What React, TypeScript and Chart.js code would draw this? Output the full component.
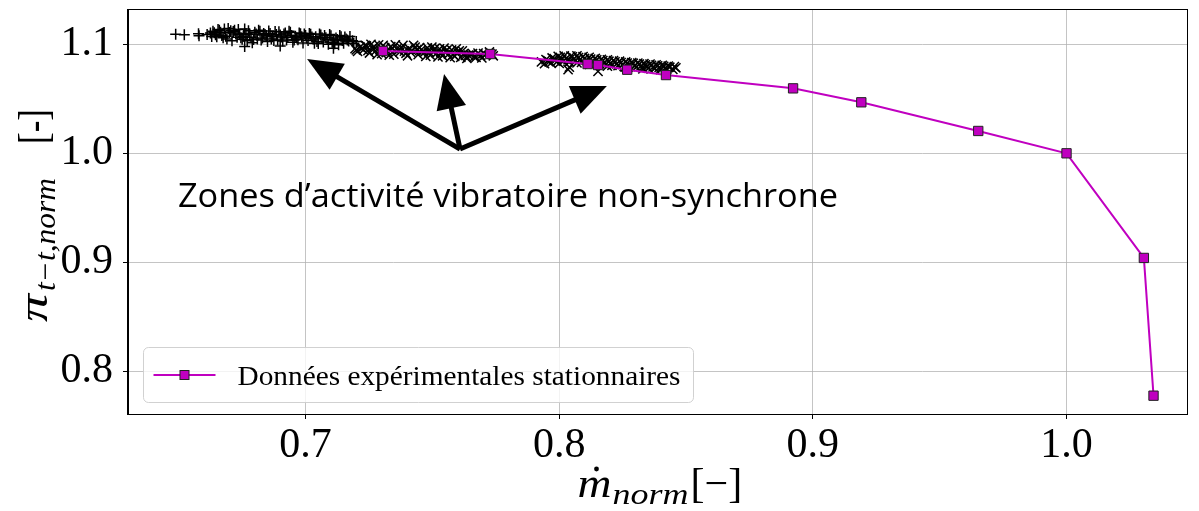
import React, { useEffect, useRef } from "react";
import { Chart, registerables } from "chart.js";

Chart.register(...registerables);

// ---------- data ----------
const xTicks = [0.7, 0.8, 0.9, 1.0];
const yTicks = [0.8, 0.9, 1.0, 1.1];
const xMin = 0.63;
const xMax = 1.0475;
const yMin = 0.7608;
const yMax = 1.1315;

const seriesLabel = "Données expérimentales stationnaires";
const expX = [0.7305, 0.7728, 0.8112, 0.8153, 0.8268, 0.8421, 0.8922, 0.9191, 0.9652, 1.0, 1.0305, 1.0343];
const expY = [1.0939, 1.0911, 1.0819, 1.081, 1.0767, 1.0718, 1.0596, 1.0468, 1.0205, 1.0, 0.904, 0.7776];

// '+' cluster (lowest flow rates)
const plusX = [
  0.6488, 0.6522, 0.6578, 0.658, 0.6612, 0.663, 0.6625,
  0.664, 0.665, 0.666, 0.667, 0.668, 0.669, 0.67, 0.671, 0.672, 0.673, 0.674, 0.675, 0.676, 0.677, 0.678, 0.679,
  0.68, 0.681, 0.682, 0.683, 0.684, 0.685, 0.686, 0.687, 0.688, 0.689, 0.69, 0.691, 0.692, 0.693, 0.694, 0.695,
  0.696, 0.697, 0.698, 0.699, 0.7, 0.701, 0.702, 0.703, 0.704, 0.705, 0.706, 0.707, 0.708, 0.709, 0.71, 0.711,
  0.712, 0.713, 0.714, 0.715, 0.716, 0.717,
  0.6645, 0.6665, 0.6685, 0.6705, 0.6725, 0.6745, 0.6765, 0.6785, 0.6805, 0.6825, 0.6845, 0.6865, 0.6885, 0.6905,
  0.6925, 0.6945, 0.6965, 0.6985, 0.7005, 0.7025, 0.7045, 0.7065, 0.7085, 0.7105, 0.7125, 0.7145, 0.7165, 0.7185, 0.72,
  0.676, 0.69, 0.711,
  0.6635, 0.6655, 0.6675, 0.6695, 0.6715, 0.6735, 0.6755, 0.6775, 0.6795, 0.6815, 0.6835, 0.6855, 0.6875, 0.6895,
  0.6915, 0.6935, 0.6955, 0.6975, 0.6995, 0.7015, 0.7035, 0.7055, 0.7075, 0.7095, 0.7115, 0.7135, 0.7155, 0.7175, 0.719,
];
const plusY = [
  1.1092, 1.1088, 1.1098, 1.1078, 1.109, 1.1072, 1.1105,
  1.1106, 1.107, 1.1129, 1.1082, 1.1141, 1.1049, 1.1108, 1.1032, 1.113, 1.1064, 1.1087, 1.1046, 1.114, 1.1033, 1.1092, 1.1015,
  1.111, 1.105, 1.112, 1.1058, 1.109, 1.1025, 1.11, 1.1072, 1.1118, 1.104, 1.1085, 1.103, 1.1105, 1.1062, 1.111, 1.102,
  1.1075, 1.1042, 1.1098, 1.1012, 1.108, 1.1035, 1.1092, 1.105, 1.107, 1.1008, 1.1085, 1.1022, 1.106, 1.1, 1.1078, 1.104,
  1.1058, 1.0995, 1.107, 1.101, 1.105, 1.103,
  1.1088, 1.111, 1.1075, 1.1125, 1.1095, 1.106, 1.11, 1.1065, 1.1095, 1.104, 1.108, 1.1048, 1.109, 1.1068,
  1.104, 1.1082, 1.1058, 1.107, 1.1058, 1.1068, 1.1025, 1.106, 1.1045, 1.102, 1.1045, 1.1035, 1.104, 1.1032, 1.1025,
  1.098, 1.0985, 1.0965,
  1.112, 1.1135, 1.106, 1.1145, 1.1118, 1.1135, 1.1075, 1.1125, 1.1045, 1.113, 1.11, 1.1122, 1.1035, 1.1115,
  1.1095, 1.112, 1.104, 1.1105, 1.1095, 1.11, 1.101, 1.1095, 1.1082, 1.109, 1.1005, 1.108, 1.1068, 1.1072, 1.101,
];

// 'x' clusters (intermediate flow rates)
const crossX = [
  0.7195, 0.7205, 0.7215, 0.7228, 0.724, 0.7252, 0.7264, 0.7276, 0.7288, 0.73, 0.7312, 0.7324, 0.7336, 0.7348, 0.736,
  0.7372, 0.7384, 0.7396, 0.7408, 0.742, 0.7432, 0.7444, 0.7456, 0.7468, 0.748, 0.7492, 0.7504, 0.7516, 0.7528, 0.754,
  0.7552, 0.7564, 0.7576, 0.7588, 0.76, 0.7612, 0.7624, 0.7636, 0.765, 0.7665, 0.768, 0.7695, 0.771, 0.7725, 0.774,
  0.72, 0.7222, 0.7246, 0.727, 0.7294, 0.7318, 0.7342, 0.7366, 0.739, 0.7414, 0.7438, 0.7462, 0.7486, 0.751, 0.7534,
  0.7558, 0.7582, 0.7606, 0.763, 0.7658, 0.769,
  0.7235, 0.7258, 0.7282, 0.7306, 0.733, 0.7354, 0.7378, 0.7402, 0.7426, 0.745, 0.7474, 0.7498, 0.7522, 0.7546,
  0.757, 0.7594, 0.7618, 0.7642, 0.7672, 0.7702, 0.7735,
  0.793, 0.7942, 0.7955, 0.7968, 0.798, 0.7992, 0.8004, 0.8016, 0.8028, 0.804, 0.8052, 0.8064, 0.8076, 0.8088, 0.81,
  0.8112, 0.8124, 0.8136, 0.8148, 0.816, 0.8172, 0.8184, 0.8196, 0.8208, 0.822, 0.8232, 0.8244, 0.8256, 0.8268, 0.828,
  0.8292, 0.8304, 0.8316, 0.8328, 0.834, 0.8352, 0.8364, 0.8376, 0.8388, 0.84, 0.8412, 0.8424, 0.8436, 0.8448, 0.846,
  0.796, 0.7985, 0.801, 0.8035, 0.8058, 0.8082, 0.8106, 0.813, 0.8154, 0.8178, 0.8202, 0.8226, 0.825, 0.8274, 0.8298,
  0.8322, 0.8346, 0.837, 0.8394, 0.8418,
  0.7948, 0.7972, 0.7996, 0.802, 0.8046, 0.807, 0.8094, 0.8118, 0.8142, 0.8166, 0.819, 0.8214, 0.8238, 0.8262, 0.8286,
  0.831, 0.8334, 0.8358, 0.8382, 0.8406, 0.843, 0.8454,
  0.8, 0.807, 0.812, 0.819, 0.826, 0.833, 0.84,
  0.8035, 0.8153, 0.804,
];
const crossY = [
  1.096, 1.0935, 1.0975, 1.095, 1.0985, 1.092, 1.0965, 1.094, 1.0995, 1.0915, 1.097, 1.0935, 1.098, 1.091, 1.0958,
  1.093, 1.099, 1.0918, 1.0962, 1.094, 1.0975, 1.0905, 1.095, 1.0925, 1.0968, 1.09, 1.0945, 1.0918, 1.0958, 1.0895,
  1.0935, 1.091, 1.0948, 1.089, 1.0925, 1.088, 1.0915, 1.087, 1.0905, 1.0885, 1.092, 1.0875, 1.0905, 1.093, 1.0895,
  1.0948, 1.0962, 1.0942, 1.0978, 1.0948, 1.0925, 1.0962, 1.0945, 1.0938, 1.0928, 1.095, 1.0938, 1.093, 1.0962, 1.0925,
  1.095, 1.0905, 1.094, 1.0898, 1.0915, 1.0898,
  1.099, 1.1, 1.0905, 1.099, 1.09, 1.0995, 1.0965, 1.0895, 1.099, 1.097, 1.089, 1.0975, 1.0885, 1.0965,
  1.0878, 1.0958, 1.094, 1.09, 1.088, 1.0915, 1.091,
  1.0838, 1.0822, 1.085, 1.083, 1.0868, 1.0842, 1.088, 1.0845, 1.0872, 1.0838, 1.0885, 1.085, 1.0878, 1.0835, 1.087,
  1.0842, 1.0865, 1.0828, 1.0858, 1.082, 1.085, 1.0815, 1.0845, 1.0808, 1.084, 1.0805, 1.0832, 1.0798, 1.0828, 1.0795,
  1.0825, 1.079, 1.0818, 1.0788, 1.0812, 1.0782, 1.0808, 1.078, 1.0802, 1.0775, 1.0798, 1.0772, 1.079, 1.077, 1.0785,
  1.084, 1.0855, 1.0862, 1.0858, 1.0865, 1.086, 1.0855, 1.0845, 1.0838, 1.0832, 1.0825, 1.082, 1.0815, 1.081, 1.0808,
  1.0802, 1.0797, 1.0793, 1.0788, 1.0785,
  1.086, 1.0875, 1.089, 1.0895, 1.0892, 1.0895, 1.0888, 1.088, 1.087, 1.0862, 1.0858, 1.085, 1.0845, 1.0838, 1.0832,
  1.0828, 1.0822, 1.0818, 1.0812, 1.0808, 1.08, 1.0795,
  1.0825, 1.083, 1.0815, 1.08, 1.079, 1.0775, 1.0768,
  1.0768, 1.0752, 1.079,
];

// annotation
const annotationText = "Zones d\u2019activité vibratoire non-synchrone";
const annotationPos = [0.6497, 0.9507];
const arrowTail = [0.7609, 1.0039];
const arrowTipX = [0.7006, 0.7546, 0.8188];
const arrowTipY = [1.0865, 1.0728, 1.0617];

// ---------- styles ----------
const MAGENTA = "#c000c0";
const SERIF = '"Liberation Serif", "DejaVu Serif", serif';
const GRID = "rgba(176,176,176,0.75)";

const toPts = (xs: number[], ys: number[]) => xs.map((x, i) => ({ x, y: ys[i] }));

const overlayPlugin = {
  id: "overlay",
  afterDatasetsDraw(chart: any) {
    const { ctx, chartArea: a } = chart;
    const sx = chart.scales.x;
    const sy = chart.scales.y;
    ctx.save();

    // arrows
    const tx = sx.getPixelForValue(arrowTail[0]);
    const ty = sy.getPixelForValue(arrowTail[1]);
    ctx.fillStyle = "#000";
    ctx.strokeStyle = "#000";
    for (let i = 0; i < arrowTipX.length; i++) {
      const hx = sx.getPixelForValue(arrowTipX[i]);
      const hy = sy.getPixelForValue(arrowTipY[i]);
      const dx = hx - tx;
      const dy = hy - ty;
      const len = Math.hypot(dx, dy);
      const ux = dx / len;
      const uy = dy / len;
      const headLen = 35;
      const headW = 30;
      const bx = hx - ux * headLen;
      const by = hy - uy * headLen;
      ctx.beginPath();
      ctx.moveTo(tx, ty);
      ctx.lineTo(bx + ux * 2, by + uy * 2);
      ctx.lineWidth = 5;
      ctx.lineCap = "butt";
      ctx.stroke();
      ctx.beginPath();
      ctx.moveTo(hx, hy);
      ctx.lineTo(bx - uy * headW / 2, by + ux * headW / 2);
      ctx.lineTo(bx + uy * headW / 2, by - ux * headW / 2);
      ctx.closePath();
      ctx.fill();
    }

    // annotation text
    const ax = sx.getPixelForValue(annotationPos[0]);
    const ay = sy.getPixelForValue(annotationPos[1]);
    ctx.font = '33px "Open Sans", "Noto Sans", sans-serif';
    ctx.textBaseline = "alphabetic";
    ctx.textAlign = "left";
    const tw = ctx.measureText(annotationText).width;
    const targetW = 660;
    ctx.save();
    ctx.translate(ax, ay);
    ctx.scale(targetW / tw, 1);
    ctx.fillText(annotationText, 0, 0);
    ctx.restore();

    // legend
    const lx = a.left + 15.5;
    const ly = a.bottom - 66.5;
    const lw = 550;
    const lh = 55;
    ctx.beginPath();
    ctx.roundRect(lx, ly, lw, lh, 5);
    ctx.fillStyle = "rgba(255,255,255,0.8)";
    ctx.fill();
    ctx.strokeStyle = "rgba(204,204,204,0.9)";
    ctx.lineWidth = 1;
    ctx.stroke();
    const my = ly + lh / 2;
    ctx.beginPath();
    ctx.moveTo(lx + 10, my);
    ctx.lineTo(lx + 72, my);
    ctx.strokeStyle = MAGENTA;
    ctx.lineWidth = 2;
    ctx.stroke();
    ctx.fillStyle = MAGENTA;
    ctx.strokeStyle = "#222";
    ctx.lineWidth = 1;
    ctx.fillRect(lx + 36.5, my - 4.5, 9, 9);
    ctx.strokeRect(lx + 36.5, my - 4.5, 9, 9);
    ctx.fillStyle = "#000";
    ctx.font = `28px ${SERIF}`;
    const lt = ctx.measureText(seriesLabel).width;
    ctx.save();
    ctx.translate(lx + 94, my + 10);
    ctx.scale(443 / lt, 1);
    ctx.fillText(seriesLabel, 0, 0);
    ctx.restore();

    ctx.restore();
  },
  afterDraw(chart: any) {
    const { ctx, chartArea: a } = chart;
    ctx.save();
    // full frame (top/right spines)
    ctx.strokeStyle = "#000";
    ctx.lineWidth = 1;
    ctx.strokeRect(Math.round(a.left) - 0.5, Math.round(a.top) - 0.5, a.right - a.left + 1, a.bottom - a.top + 1);

    ctx.fillStyle = "#000";
    ctx.textBaseline = "alphabetic";
    ctx.textAlign = "left";

    // x axis title: m-dot _norm [−]
    const cx = (a.left + a.right) / 2;
    const big = `italic 42px ${SERIF}`;
    const small = `italic 30px ${SERIF}`;
    const up = `42px ${SERIF}`;
    const base = 497;
    const px = cx - 80;
    ctx.font = big;
    const wm = ctx.measureText("m").width;
    ctx.save();
    ctx.translate(px, base);
    ctx.scale(34 / wm, 1);
    ctx.fillText("m", 0, 0);
    ctx.restore();
    ctx.beginPath();
    ctx.arc(px + 19, base - 28, 2.4, 0, Math.PI * 2);
    ctx.fill();
    ctx.font = small;
    const wn = ctx.measureText("norm").width;
    ctx.save();
    ctx.translate(cx - 45, base + 7);
    ctx.scale(76 / wn, 1);
    ctx.fillText("norm", 0, 0);
    ctx.restore();
    ctx.font = up;
    ctx.fillText("[\u2212]", cx + 33, base);

    // y axis title: π_{t−t,norm} [-]
    ctx.save();
    ctx.translate(47, 322);
    ctx.rotate(-Math.PI / 2);
    ctx.font = big;
    const wp = ctx.measureText("\u03c0").width;
    ctx.save();
    ctx.scale(28 / wp, 1);
    ctx.fillText("\u03c0", 0, 0);
    ctx.restore();
    ctx.font = small;
    const ws = ctx.measureText("t\u2212t,norm").width;
    ctx.save();
    ctx.translate(31, 8);
    ctx.scale(113 / ws, 1);
    ctx.fillText("t\u2212t,norm", 0, 0);
    ctx.restore();
    ctx.font = up;
    const wbr = ctx.measureText("[-]").width;
    ctx.save();
    ctx.translate(178, 0);
    ctx.scale(35 / wbr, 1);
    ctx.fillText("[-]", 0, 0);
    ctx.restore();
    ctx.restore();

    ctx.restore();
  },
};

export default function App() {
  const ref = useRef<HTMLCanvasElement | null>(null);
  useEffect(() => {
    if (!ref.current) return;
    const tickFont = { family: SERIF, size: 42 };
    const chart = new Chart(ref.current, {
      type: "scatter",
      data: {
        datasets: [
          {
            label: seriesLabel,
            data: toPts(expX, expY),
            showLine: true,
            borderColor: MAGENTA,
            borderWidth: 2,
            pointStyle: "rect",
            pointRadius: 6.6,
            pointBackgroundColor: MAGENTA,
            pointBorderColor: "#222",
            pointBorderWidth: 1,
          },
          {
            label: "x",
            data: toPts(crossX, crossY),
            pointStyle: "crossRot",
            pointRadius: 6.5,
            borderColor: "#000",
            pointBorderWidth: 1.5,
            borderWidth: 1.5,
          },
          {
            label: "+",
            data: toPts(plusX, plusY),
            pointStyle: "cross",
            pointRadius: 5.5,
            borderColor: "#000",
            pointBorderWidth: 1.5,
            borderWidth: 1.5,
          },
        ],
      },
      options: {
        animation: false,
        responsive: false,
        maintainAspectRatio: false,
        events: [],
        layout: { padding: { top: 10, right: 12, left: 0, bottom: 0 } },
        plugins: { legend: { display: false }, tooltip: { enabled: false } },
        scales: {
          x: {
            type: "linear",
            min: xMin,
            max: xMax,
            afterBuildTicks: (s: any) => {
              s.ticks = xTicks.map((v) => ({ value: v }));
            },
            afterFit: (s: any) => {
              s.height = 97;
              s.paddingLeft = 0;
              s.paddingRight = 0;
            },
            ticks: { font: tickFont, color: "#000", padding: 2, callback: (v: any) => Number(v).toFixed(1) },
            grid: { color: GRID, tickColor: "#000", tickLength: 5, lineWidth: 1 },
            border: { color: "#000", width: 1 },
          },
          y: {
            type: "linear",
            min: yMin,
            max: yMax,
            afterBuildTicks: (s: any) => {
              s.ticks = yTicks.map((v) => ({ value: v }));
            },
            afterFit: (s: any) => {
              s.width = 128;
              s.paddingTop = 0;
              s.paddingBottom = 0;
            },
            ticks: { font: tickFont, color: "#000", padding: 10, callback: (v: any) => Number(v).toFixed(1) },
            grid: { color: GRID, tickColor: "#000", tickLength: 5, lineWidth: 1 },
            border: { color: "#000", width: 1 },
          },
        },
      },
      plugins: [overlayPlugin],
    } as any);
    return () => chart.destroy();
  }, []);
  return (
    <div style={{ position: "fixed", left: 0, top: 0, width: 1199, height: 511, background: "#fff" }}>
      <canvas ref={ref} width={1199} height={511} style={{ display: "block", width: 1199, height: 511 }} />
    </div>
  );
}
